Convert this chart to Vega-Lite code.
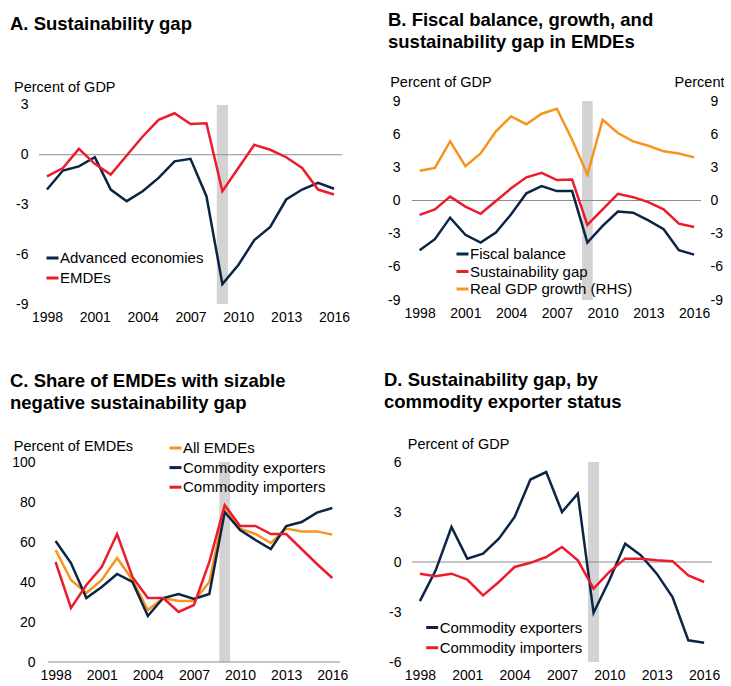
{
  "$schema": "https://vega.github.io/schema/vega-lite/v6.json",
  "background": "white",
  "padding": {"left": 10, "top": 10, "right": 0, "bottom": 0},
  "columns": 2,
  "spacing": {"column": 34, "row": 46},
  "resolve": {"scale": {"color": "independent", "x": "independent", "y": "independent"}, "legend": {"color": "independent"}},
  "config": {
    "font": "Liberation Sans",
    "view": {"stroke": null},
    "axis": {"domain": false, "ticks": false, "tickSize": 0, "grid": false, "labelFontSize": 14, "labelColor": "#000", "titleFontSize": 14.5, "titleFontWeight": "normal", "titleColor": "#000", "labelFlush": false, "labelOverlap": false, "labelFont": "Liberation Sans", "titleFont": "Liberation Sans"},
    "legend": {"orient": "none", "symbolType": "stroke", "symbolSize": 144, "symbolStrokeWidth": 3, "labelFontSize": 15, "labelColor": "#000", "labelOffset": 0, "padding": 0, "labelLimit": 400, "labelFont": "Liberation Sans"},
    "title": {"font": "Liberation Sans", "fontSize": 18.5, "fontWeight": "bold", "anchor": "start", "frame": "group", "color": "#000", "lineHeight": 22.5}
  },
  "concat": [
    {
      "width": 303, "height": 203,
      "title": {"text": "A. Sustainability gap", "dx": -29, "offset": 46},
      "layer": [
        {
          "data": {"values": [{}]},
          "mark": {"type": "rect", "color": "#D3D3D3"},
          "encoding": {
            "x": {"datum": 2008.65, "type": "quantitative", "scale": {"domain": [1997.5, 2016.5], "nice": false, "zero": false},
                  "axis": {"title": null, "values": [1998, 2001, 2004, 2007, 2010, 2013, 2016], "format": "d", "labelPadding": 6, "labelOverlap": false}},
            "x2": {"datum": 2009.35},
            "y": {"datum": 3, "type": "quantitative", "scale": {"domain": [-9, 3.24], "nice": false, "zero": false},
                  "axis": {"title": "Percent of GDP", "values": [-9, -6, -3, 0, 3], "labelOverlap": false, "labelExpr": "datum.value < 0 ? '-' + abs(datum.value) : '' + datum.value", "labelPadding": 11, "titleAngle": 0, "titleAlign": "left", "titleBaseline": "middle", "titleX": -25.5, "titleY": -13.3}},
            "y2": {"datum": -9}
          }
        },
        {
          "data": {"values": [{}]},
          "mark": {"type": "rule", "color": "#8C8C8C", "strokeWidth": 1},
          "encoding": {"y": {"datum": 0, "type": "quantitative", "scale": {"domain": [-9, 3.24], "nice": false, "zero": false},
                  "axis": {"title": "Percent of GDP", "values": [-9, -6, -3, 0, 3], "labelOverlap": false, "labelExpr": "datum.value < 0 ? '-' + abs(datum.value) : '' + datum.value", "labelPadding": 11, "titleAngle": 0, "titleAlign": "left", "titleBaseline": "middle", "titleX": -25.5, "titleY": -13.3}}}
        },
        {
          "data": {"values": [
            {"year": 1998, "series": "Advanced economies", "value": -2.1},
            {"year": 1999, "series": "Advanced economies", "value": -0.95},
            {"year": 2000, "series": "Advanced economies", "value": -0.7},
            {"year": 2001, "series": "Advanced economies", "value": -0.15},
            {"year": 2002, "series": "Advanced economies", "value": -2.1},
            {"year": 2003, "series": "Advanced economies", "value": -2.8},
            {"year": 2004, "series": "Advanced economies", "value": -2.2},
            {"year": 2005, "series": "Advanced economies", "value": -1.4},
            {"year": 2006, "series": "Advanced economies", "value": -0.4},
            {"year": 2007, "series": "Advanced economies", "value": -0.25},
            {"year": 2008, "series": "Advanced economies", "value": -2.5},
            {"year": 2009, "series": "Advanced economies", "value": -7.8},
            {"year": 2010, "series": "Advanced economies", "value": -6.65},
            {"year": 2011, "series": "Advanced economies", "value": -5.15},
            {"year": 2012, "series": "Advanced economies", "value": -4.35},
            {"year": 2013, "series": "Advanced economies", "value": -2.7},
            {"year": 2014, "series": "Advanced economies", "value": -2.1},
            {"year": 2015, "series": "Advanced economies", "value": -1.7},
            {"year": 2016, "series": "Advanced economies", "value": -2.05},
            {"year": 1998, "series": "EMDEs", "value": -1.3},
            {"year": 1999, "series": "EMDEs", "value": -0.8},
            {"year": 2000, "series": "EMDEs", "value": 0.35},
            {"year": 2001, "series": "EMDEs", "value": -0.55},
            {"year": 2002, "series": "EMDEs", "value": -1.2},
            {"year": 2003, "series": "EMDEs", "value": -0.05},
            {"year": 2004, "series": "EMDEs", "value": 1.1},
            {"year": 2005, "series": "EMDEs", "value": 2.1},
            {"year": 2006, "series": "EMDEs", "value": 2.5},
            {"year": 2007, "series": "EMDEs", "value": 1.85},
            {"year": 2008, "series": "EMDEs", "value": 1.9},
            {"year": 2009, "series": "EMDEs", "value": -2.2},
            {"year": 2010, "series": "EMDEs", "value": -0.8},
            {"year": 2011, "series": "EMDEs", "value": 0.6},
            {"year": 2012, "series": "EMDEs", "value": 0.3},
            {"year": 2013, "series": "EMDEs", "value": -0.15},
            {"year": 2014, "series": "EMDEs", "value": -0.8},
            {"year": 2015, "series": "EMDEs", "value": -2.1},
            {"year": 2016, "series": "EMDEs", "value": -2.4}
          ]},
          "mark": {"type": "line", "strokeWidth": 2.5},
          "encoding": {
            "x": {"field": "year", "type": "quantitative", "scale": {"domain": [1997.5, 2016.5], "nice": false, "zero": false},
                  "axis": {"title": null, "values": [1998, 2001, 2004, 2007, 2010, 2013, 2016], "format": "d", "labelPadding": 6, "labelOverlap": false}},
            "y": {"field": "value", "type": "quantitative", "scale": {"domain": [-9, 3.24], "nice": false, "zero": false},
                  "axis": {"title": "Percent of GDP", "values": [-9, -6, -3, 0, 3], "labelOverlap": false, "labelExpr": "datum.value < 0 ? '-' + abs(datum.value) : '' + datum.value", "labelPadding": 11, "titleAngle": 0, "titleAlign": "left", "titleBaseline": "middle", "titleX": -25.5, "titleY": -13.3}},
            "color": {"field": "series", "type": "nominal",
                      "scale": {"domain": ["Advanced economies", "EMDEs"], "range": ["#0B2545", "#EB1C2D"]},
                      "legend": {"title": null, "legendX": 6, "legendY": 149.5, "rowPadding": 4}}
          }
        }
      ]
    },
    {
      "width": 289, "height": 199,
      "title": {"text": ["B. Fiscal balance, growth, and", "sustainability gap in EMDEs"], "dx": -24, "offset": 23},
      "resolve": {"scale": {"y": "independent"}},
      "layer": [
        {
          "layer": [
            {
              "data": {"values": [{}]},
              "mark": {"type": "rect", "color": "#D3D3D3"},
              "encoding": {
                "x": {"datum": 2008.65, "type": "quantitative", "scale": {"domain": [1997.5, 2016.45], "nice": false, "zero": false},
                      "axis": {"title": null, "values": [1998, 2001, 2004, 2007, 2010, 2013, 2016], "format": "d", "labelPadding": 6, "labelOverlap": false}},
                "x2": {"datum": 2009.35},
                "y": {"datum": 9, "type": "quantitative", "scale": {"domain": [-9, 9], "nice": false, "zero": false},
                      "axis": {"title": "Percent of GDP", "values": [-9, -6, -3, 0, 3, 6, 9], "labelOverlap": false, "labelExpr": "datum.value < 0 ? '-' + abs(datum.value) : '' + datum.value", "labelPadding": 12, "titleAngle": 0, "titleAlign": "left", "titleBaseline": "middle", "titleX": -22.3, "titleY": -18.5}},
                "y2": {"datum": -9}
              }
            },
            {
              "data": {"values": [{}]},
              "mark": {"type": "rule", "color": "#8C8C8C", "strokeWidth": 1},
              "encoding": {"y": {"datum": 0, "type": "quantitative", "scale": {"domain": [-9, 9], "nice": false, "zero": false},
                      "axis": {"title": "Percent of GDP", "values": [-9, -6, -3, 0, 3, 6, 9], "labelOverlap": false, "labelExpr": "datum.value < 0 ? '-' + abs(datum.value) : '' + datum.value", "labelPadding": 12, "titleAngle": 0, "titleAlign": "left", "titleBaseline": "middle", "titleX": -22.3, "titleY": -18.5}}}
            },
            {
              "data": {"values": [
                {"year": 1998, "series": "Fiscal balance", "value": -4.5},
                {"year": 1999, "series": "Fiscal balance", "value": -3.5},
                {"year": 2000, "series": "Fiscal balance", "value": -1.55},
                {"year": 2001, "series": "Fiscal balance", "value": -3.1},
                {"year": 2002, "series": "Fiscal balance", "value": -3.8},
                {"year": 2003, "series": "Fiscal balance", "value": -2.9},
                {"year": 2004, "series": "Fiscal balance", "value": -1.25},
                {"year": 2005, "series": "Fiscal balance", "value": 0.65},
                {"year": 2006, "series": "Fiscal balance", "value": 1.3},
                {"year": 2007, "series": "Fiscal balance", "value": 0.85},
                {"year": 2008, "series": "Fiscal balance", "value": 0.85},
                {"year": 2009, "series": "Fiscal balance", "value": -3.8},
                {"year": 2010, "series": "Fiscal balance", "value": -2.3},
                {"year": 2011, "series": "Fiscal balance", "value": -1.0},
                {"year": 2012, "series": "Fiscal balance", "value": -1.1},
                {"year": 2013, "series": "Fiscal balance", "value": -1.8},
                {"year": 2014, "series": "Fiscal balance", "value": -2.6},
                {"year": 2015, "series": "Fiscal balance", "value": -4.5},
                {"year": 2016, "series": "Fiscal balance", "value": -4.9},
                {"year": 1998, "series": "Sustainability gap", "value": -1.3},
                {"year": 1999, "series": "Sustainability gap", "value": -0.8},
                {"year": 2000, "series": "Sustainability gap", "value": 0.35},
                {"year": 2001, "series": "Sustainability gap", "value": -0.55},
                {"year": 2002, "series": "Sustainability gap", "value": -1.2},
                {"year": 2003, "series": "Sustainability gap", "value": -0.05},
                {"year": 2004, "series": "Sustainability gap", "value": 1.1},
                {"year": 2005, "series": "Sustainability gap", "value": 2.1},
                {"year": 2006, "series": "Sustainability gap", "value": 2.5},
                {"year": 2007, "series": "Sustainability gap", "value": 1.85},
                {"year": 2008, "series": "Sustainability gap", "value": 1.9},
                {"year": 2009, "series": "Sustainability gap", "value": -2.2},
                {"year": 2010, "series": "Sustainability gap", "value": -0.8},
                {"year": 2011, "series": "Sustainability gap", "value": 0.6},
                {"year": 2012, "series": "Sustainability gap", "value": 0.3},
                {"year": 2013, "series": "Sustainability gap", "value": -0.15},
                {"year": 2014, "series": "Sustainability gap", "value": -0.8},
                {"year": 2015, "series": "Sustainability gap", "value": -2.1},
                {"year": 2016, "series": "Sustainability gap", "value": -2.4}
              ]},
              "mark": {"type": "line", "strokeWidth": 2.5},
              "encoding": {
                "x": {"field": "year", "type": "quantitative", "scale": {"domain": [1997.5, 2016.45], "nice": false, "zero": false},
                      "axis": {"title": null, "values": [1998, 2001, 2004, 2007, 2010, 2013, 2016], "format": "d", "labelPadding": 6, "labelOverlap": false}},
                "y": {"field": "value", "type": "quantitative", "scale": {"domain": [-9, 9], "nice": false, "zero": false},
                      "axis": {"title": "Percent of GDP", "values": [-9, -6, -3, 0, 3, 6, 9], "labelOverlap": false, "labelExpr": "datum.value < 0 ? '-' + abs(datum.value) : '' + datum.value", "labelPadding": 12, "titleAngle": 0, "titleAlign": "left", "titleBaseline": "middle", "titleX": -22.3, "titleY": -18.5}},
                "color": {"field": "series", "type": "nominal",
                          "scale": {"domain": ["Fiscal balance", "Sustainability gap", "Real GDP growth (RHS)"], "range": ["#0B2545", "#EB1C2D", "#F7941D"]},
                          "legend": {"title": null, "legendX": 43, "legendY": 145.5, "rowPadding": 1.5}}
              }
            }
          ]
        },
        {
          "data": {"values": [
            {"year": 1998, "series": "Real GDP growth (RHS)", "value": 2.7},
            {"year": 1999, "series": "Real GDP growth (RHS)", "value": 2.95},
            {"year": 2000, "series": "Real GDP growth (RHS)", "value": 5.35},
            {"year": 2001, "series": "Real GDP growth (RHS)", "value": 3.1},
            {"year": 2002, "series": "Real GDP growth (RHS)", "value": 4.25},
            {"year": 2003, "series": "Real GDP growth (RHS)", "value": 6.25},
            {"year": 2004, "series": "Real GDP growth (RHS)", "value": 7.6},
            {"year": 2005, "series": "Real GDP growth (RHS)", "value": 6.9},
            {"year": 2006, "series": "Real GDP growth (RHS)", "value": 7.85},
            {"year": 2007, "series": "Real GDP growth (RHS)", "value": 8.3},
            {"year": 2008, "series": "Real GDP growth (RHS)", "value": 5.5},
            {"year": 2009, "series": "Real GDP growth (RHS)", "value": 2.35},
            {"year": 2010, "series": "Real GDP growth (RHS)", "value": 7.3},
            {"year": 2011, "series": "Real GDP growth (RHS)", "value": 6.1},
            {"year": 2012, "series": "Real GDP growth (RHS)", "value": 5.35},
            {"year": 2013, "series": "Real GDP growth (RHS)", "value": 4.95},
            {"year": 2014, "series": "Real GDP growth (RHS)", "value": 4.45},
            {"year": 2015, "series": "Real GDP growth (RHS)", "value": 4.25},
            {"year": 2016, "series": "Real GDP growth (RHS)", "value": 3.9}
          ]},
          "mark": {"type": "line", "strokeWidth": 2.5},
          "encoding": {
            "x": {"field": "year", "type": "quantitative", "scale": {"domain": [1997.5, 2016.45], "nice": false, "zero": false},
                  "axis": {"title": null, "values": [1998, 2001, 2004, 2007, 2010, 2013, 2016], "format": "d", "labelPadding": 6, "labelOverlap": false}},
            "y": {"field": "value", "type": "quantitative", "scale": {"domain": [-9, 9], "nice": false, "zero": false},
                  "axis": {"orient": "right", "title": "Percent", "values": [-9, -6, -3, 0, 3, 6, 9], "labelOverlap": false, "labelExpr": "datum.value < 0 ? '-' + abs(datum.value) : '' + datum.value", "labelPadding": 9, "titleAngle": 0, "titleAlign": "right", "titleBaseline": "middle", "titleX": 23, "titleY": -18.5}},
            "color": {"field": "series", "type": "nominal",
                      "scale": {"domain": ["Fiscal balance", "Sustainability gap", "Real GDP growth (RHS)"], "range": ["#0B2545", "#EB1C2D", "#F7941D"]},
                      "legend": {"title": null, "legendX": 43, "legendY": 145.5, "rowPadding": 1.5}}
          }
        }
      ]
    },
    {
      "width": 301, "height": 200,
      "title": {"text": ["C. Share of EMDEs with sizable", "negative sustainability gap"], "dx": -29, "offset": 26},
      "layer": [
        {
          "data": {"values": [{}]},
          "mark": {"type": "rect", "color": "#D3D3D3"},
          "encoding": {
            "x": {"datum": 2008.65, "type": "quantitative", "scale": {"domain": [1996.92, 2016.5], "nice": false, "zero": false},
                  "axis": {"title": null, "values": [1998, 2001, 2004, 2007, 2010, 2013, 2016], "format": "d", "labelPadding": 6, "labelOverlap": false}},
            "x2": {"datum": 2009.35},
            "y": {"datum": 100, "type": "quantitative", "scale": {"domain": [0, 100], "nice": false},
                  "axis": {"title": "Percent of EMDEs", "values": [0, 20, 40, 60, 80, 100], "labelOverlap": false, "offset": -9, "labelPadding": 13, "titleAngle": 0, "titleAlign": "left", "titleBaseline": "middle", "titleX": -34.7, "titleY": -15.3}},
            "y2": {"datum": 0}
          }
        },
        {
          "data": {"values": [{}]},
          "mark": {"type": "rule", "color": "#8C8C8C", "strokeWidth": 1},
          "encoding": {
            "x": {"datum": 1997.5, "type": "quantitative", "scale": {"domain": [1996.92, 2016.5], "nice": false, "zero": false},
                  "axis": {"title": null, "values": [1998, 2001, 2004, 2007, 2010, 2013, 2016], "format": "d", "labelPadding": 6, "labelOverlap": false}},
            "x2": {"datum": 2016.5},
            "y": {"datum": 0, "type": "quantitative", "scale": {"domain": [0, 100], "nice": false},
                  "axis": {"title": "Percent of EMDEs", "values": [0, 20, 40, 60, 80, 100], "labelOverlap": false, "offset": -9, "labelPadding": 13, "titleAngle": 0, "titleAlign": "left", "titleBaseline": "middle", "titleX": -34.7, "titleY": -15.3}}
          }
        },
        {
          "data": {"values": [
            {"year": 1998, "series": "All EMDEs", "value": 56},
            {"year": 1999, "series": "All EMDEs", "value": 41},
            {"year": 2000, "series": "All EMDEs", "value": 34.5},
            {"year": 2001, "series": "All EMDEs", "value": 41},
            {"year": 2002, "series": "All EMDEs", "value": 52},
            {"year": 2003, "series": "All EMDEs", "value": 41},
            {"year": 2004, "series": "All EMDEs", "value": 26},
            {"year": 2005, "series": "All EMDEs", "value": 32},
            {"year": 2006, "series": "All EMDEs", "value": 30.5},
            {"year": 2007, "series": "All EMDEs", "value": 30.5},
            {"year": 2008, "series": "All EMDEs", "value": 40},
            {"year": 2009, "series": "All EMDEs", "value": 77.5},
            {"year": 2010, "series": "All EMDEs", "value": 66.7},
            {"year": 2011, "series": "All EMDEs", "value": 64},
            {"year": 2012, "series": "All EMDEs", "value": 59.5},
            {"year": 2013, "series": "All EMDEs", "value": 66.7},
            {"year": 2014, "series": "All EMDEs", "value": 65.3},
            {"year": 2015, "series": "All EMDEs", "value": 65.3},
            {"year": 2016, "series": "All EMDEs", "value": 63.7},
            {"year": 1998, "series": "Commodity exporters", "value": 60.5},
            {"year": 1999, "series": "Commodity exporters", "value": 49.5},
            {"year": 2000, "series": "Commodity exporters", "value": 32},
            {"year": 2001, "series": "Commodity exporters", "value": 37.5},
            {"year": 2002, "series": "Commodity exporters", "value": 44},
            {"year": 2003, "series": "Commodity exporters", "value": 40},
            {"year": 2004, "series": "Commodity exporters", "value": 23},
            {"year": 2005, "series": "Commodity exporters", "value": 32},
            {"year": 2006, "series": "Commodity exporters", "value": 34},
            {"year": 2007, "series": "Commodity exporters", "value": 31.5},
            {"year": 2008, "series": "Commodity exporters", "value": 34},
            {"year": 2009, "series": "Commodity exporters", "value": 75},
            {"year": 2010, "series": "Commodity exporters", "value": 66},
            {"year": 2011, "series": "Commodity exporters", "value": 61},
            {"year": 2012, "series": "Commodity exporters", "value": 56.5},
            {"year": 2013, "series": "Commodity exporters", "value": 68},
            {"year": 2014, "series": "Commodity exporters", "value": 70},
            {"year": 2015, "series": "Commodity exporters", "value": 74.7},
            {"year": 2016, "series": "Commodity exporters", "value": 77},
            {"year": 1998, "series": "Commodity importers", "value": 50},
            {"year": 1999, "series": "Commodity importers", "value": 27},
            {"year": 2000, "series": "Commodity importers", "value": 38.5},
            {"year": 2001, "series": "Commodity importers", "value": 47.5},
            {"year": 2002, "series": "Commodity importers", "value": 64},
            {"year": 2003, "series": "Commodity importers", "value": 42.5},
            {"year": 2004, "series": "Commodity importers", "value": 32},
            {"year": 2005, "series": "Commodity importers", "value": 32},
            {"year": 2006, "series": "Commodity importers", "value": 25},
            {"year": 2007, "series": "Commodity importers", "value": 28.5},
            {"year": 2008, "series": "Commodity importers", "value": 50},
            {"year": 2009, "series": "Commodity importers", "value": 78.5},
            {"year": 2010, "series": "Commodity importers", "value": 68},
            {"year": 2011, "series": "Commodity importers", "value": 68},
            {"year": 2012, "series": "Commodity importers", "value": 64},
            {"year": 2013, "series": "Commodity importers", "value": 64},
            {"year": 2014, "series": "Commodity importers", "value": 56.5},
            {"year": 2015, "series": "Commodity importers", "value": 49},
            {"year": 2016, "series": "Commodity importers", "value": 42}
          ]},
          "mark": {"type": "line", "strokeWidth": 2.5},
          "encoding": {
            "x": {"field": "year", "type": "quantitative", "scale": {"domain": [1996.92, 2016.5], "nice": false, "zero": false},
                  "axis": {"title": null, "values": [1998, 2001, 2004, 2007, 2010, 2013, 2016], "format": "d", "labelPadding": 6, "labelOverlap": false}},
            "y": {"field": "value", "type": "quantitative", "scale": {"domain": [0, 100], "nice": false},
                  "axis": {"title": "Percent of EMDEs", "values": [0, 20, 40, 60, 80, 100], "labelOverlap": false, "offset": -9, "labelPadding": 13, "titleAngle": 0, "titleAlign": "left", "titleBaseline": "middle", "titleX": -34.7, "titleY": -15.3}},
            "color": {"field": "series", "type": "nominal",
                      "scale": {"domain": ["All EMDEs", "Commodity exporters", "Commodity importers"], "range": ["#F7941D", "#0B2545", "#EB1C2D"]},
                      "legend": {"title": null, "legendX": 129, "legendY": -21.5, "rowPadding": 3.6}}
          }
        }
      ]
    },
    {
      "width": 300, "height": 200,
      "title": {"text": ["D. Sustainability gap, by", "commodity exporter status"], "dx": -28, "offset": 25},
      "layer": [
        {
          "data": {"values": [{}]},
          "mark": {"type": "rect", "color": "#D3D3D3"},
          "encoding": {
            "x": {"datum": 2008.65, "type": "quantitative", "scale": {"domain": [1997.5, 2016.5], "nice": false, "zero": false},
                  "axis": {"title": null, "values": [1998, 2001, 2004, 2007, 2010, 2013, 2016], "format": "d", "labelPadding": 6, "labelOverlap": false}},
            "x2": {"datum": 2009.35},
            "y": {"datum": 6, "type": "quantitative", "scale": {"domain": [-6, 6], "nice": false, "zero": false},
                  "axis": {"title": "Percent of GDP", "values": [-6, -3, 0, 3, 6], "labelOverlap": false, "labelExpr": "datum.value < 0 ? '-' + abs(datum.value) : '' + datum.value", "labelPadding": 11, "titleAngle": 0, "titleAlign": "left", "titleBaseline": "middle", "titleX": -4.7, "titleY": -17.3}},
            "y2": {"datum": -6}
          }
        },
        {
          "data": {"values": [{}]},
          "mark": {"type": "rule", "color": "#8C8C8C", "strokeWidth": 1},
          "encoding": {"y": {"datum": 0, "type": "quantitative", "scale": {"domain": [-6, 6], "nice": false, "zero": false},
                  "axis": {"title": "Percent of GDP", "values": [-6, -3, 0, 3, 6], "labelOverlap": false, "labelExpr": "datum.value < 0 ? '-' + abs(datum.value) : '' + datum.value", "labelPadding": 11, "titleAngle": 0, "titleAlign": "left", "titleBaseline": "middle", "titleX": -4.7, "titleY": -17.3}}}
        },
        {
          "data": {"values": [
            {"year": 1998, "series": "Commodity exporters", "value": -2.35},
            {"year": 1999, "series": "Commodity exporters", "value": -0.5},
            {"year": 2000, "series": "Commodity exporters", "value": 2.1},
            {"year": 2001, "series": "Commodity exporters", "value": 0.2},
            {"year": 2002, "series": "Commodity exporters", "value": 0.5},
            {"year": 2003, "series": "Commodity exporters", "value": 1.4},
            {"year": 2004, "series": "Commodity exporters", "value": 2.7},
            {"year": 2005, "series": "Commodity exporters", "value": 4.95},
            {"year": 2006, "series": "Commodity exporters", "value": 5.4},
            {"year": 2007, "series": "Commodity exporters", "value": 3.0},
            {"year": 2008, "series": "Commodity exporters", "value": 4.1},
            {"year": 2009, "series": "Commodity exporters", "value": -3.05},
            {"year": 2010, "series": "Commodity exporters", "value": -1.1},
            {"year": 2011, "series": "Commodity exporters", "value": 1.1},
            {"year": 2012, "series": "Commodity exporters", "value": 0.4},
            {"year": 2013, "series": "Commodity exporters", "value": -0.7},
            {"year": 2014, "series": "Commodity exporters", "value": -2.1},
            {"year": 2015, "series": "Commodity exporters", "value": -4.7},
            {"year": 2016, "series": "Commodity exporters", "value": -4.85},
            {"year": 1998, "series": "Commodity importers", "value": -0.7},
            {"year": 1999, "series": "Commodity importers", "value": -0.85},
            {"year": 2000, "series": "Commodity importers", "value": -0.7},
            {"year": 2001, "series": "Commodity importers", "value": -1.05},
            {"year": 2002, "series": "Commodity importers", "value": -2.0},
            {"year": 2003, "series": "Commodity importers", "value": -1.2},
            {"year": 2004, "series": "Commodity importers", "value": -0.3},
            {"year": 2005, "series": "Commodity importers", "value": -0.05},
            {"year": 2006, "series": "Commodity importers", "value": 0.3},
            {"year": 2007, "series": "Commodity importers", "value": 0.9},
            {"year": 2008, "series": "Commodity importers", "value": 0.1},
            {"year": 2009, "series": "Commodity importers", "value": -1.6},
            {"year": 2010, "series": "Commodity importers", "value": -0.6},
            {"year": 2011, "series": "Commodity importers", "value": 0.2},
            {"year": 2012, "series": "Commodity importers", "value": 0.2},
            {"year": 2013, "series": "Commodity importers", "value": 0.1},
            {"year": 2014, "series": "Commodity importers", "value": 0.05},
            {"year": 2015, "series": "Commodity importers", "value": -0.8},
            {"year": 2016, "series": "Commodity importers", "value": -1.2}
          ]},
          "mark": {"type": "line", "strokeWidth": 2.5},
          "encoding": {
            "x": {"field": "year", "type": "quantitative", "scale": {"domain": [1997.5, 2016.5], "nice": false, "zero": false},
                  "axis": {"title": null, "values": [1998, 2001, 2004, 2007, 2010, 2013, 2016], "format": "d", "labelPadding": 6, "labelOverlap": false}},
            "y": {"field": "value", "type": "quantitative", "scale": {"domain": [-6, 6], "nice": false, "zero": false},
                  "axis": {"title": "Percent of GDP", "values": [-6, -3, 0, 3, 6], "labelOverlap": false, "labelExpr": "datum.value < 0 ? '-' + abs(datum.value) : '' + datum.value", "labelPadding": 11, "titleAngle": 0, "titleAlign": "left", "titleBaseline": "middle", "titleX": -4.7, "titleY": -17.3}},
            "color": {"field": "series", "type": "nominal",
                      "scale": {"domain": ["Commodity exporters", "Commodity importers"], "range": ["#0B2545", "#EB1C2D"]},
                      "legend": {"title": null, "legendX": 12.7, "legendY": 158, "rowPadding": 4.2}}
          }
        }
      ]
    }
  ]
}
